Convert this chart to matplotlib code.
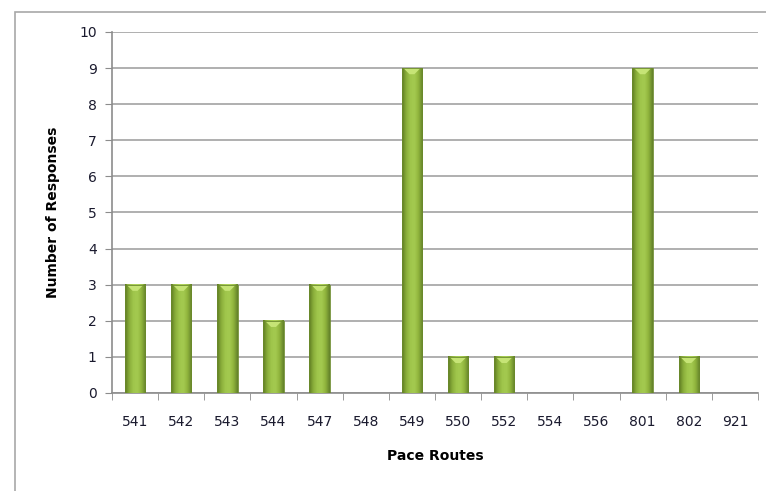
import numpy as np
import matplotlib.pyplot as plt
from matplotlib.patches import Rectangle, Polygon
from matplotlib.colors import LinearSegmentedColormap

routes = ['541', '542', '543', '544', '547', '548', '549', '550', '552',
          '554', '556', '801', '802', '921']
responses = [3, 3, 3, 2, 3, 0, 9, 1, 1, 0, 0, 9, 1, 0]

fig = plt.figure(figsize=(7.66, 4.91), dpi=100)
# outer chart border
fig.patches.append(Rectangle((15/766, -0.05), 1.0, 1 - 12/491 + 0.05,
                             transform=fig.transFigure, fill=False,
                             edgecolor='#a8a8a8', linewidth=1.2))
ax = fig.add_axes([112/766, 98/491, 646/766, 361/491])

x = np.arange(len(routes))
w = 0.44
bars = ax.bar(x, responses, width=w, color='none', edgecolor='none', zorder=3)

cmap = LinearSegmentedColormap.from_list(
    'grn', ['#5d7a22', '#8aae3a', '#a0c64c', '#a4ca50', '#8fb33c', '#62802a'])
grad = np.linspace(0, 1, 64).reshape(1, -1)
for b, v in zip(bars, responses):
    if v == 0:
        continue
    x0 = b.get_x()
    ax.imshow(grad, cmap=cmap, aspect='auto', extent=(x0, x0 + w, 0, v),
              zorder=3, interpolation='bicubic')
    # bevelled top
    ax.add_patch(Polygon([(x0 + w * 0.08, v), (x0 + w * 0.92, v),
                          (x0 + w * 0.62, v - 0.17), (x0 + w * 0.38, v - 0.17)],
                         closed=True, facecolor='#c6e476', edgecolor='none',
                         zorder=4))
    ax.add_patch(Rectangle((x0, 0), w, v, fill=False, edgecolor='#6b8a2c',
                           linewidth=0.6, zorder=4))

ax.set_xlim(-0.5, len(routes) - 0.5)
ax.set_ylim(0, 10)
ax.set_yticks(range(0, 11))
ax.set_xticks(x)
ax.set_xticklabels(routes)
ax.set_xticks(np.arange(-0.5, len(routes)), minor=True)
ax.tick_params(axis='x', which='major', length=0, pad=16, labelsize=10,
               colors='#1a1a2e')
ax.tick_params(axis='x', which='minor', length=5, color='#8c8c8c', direction='out')
ax.tick_params(axis='y', length=5, color='#8c8c8c', labelsize=10, pad=6,
               colors='#1a1a2e')
ax.tick_params(axis='y', color='#8c8c8c')
ax.grid(axis='y', color='#9a9a9a', linewidth=1.1, zorder=0)
ax.set_axisbelow(True)
for s in ['top', 'right']:
    ax.spines[s].set_visible(False)
for s in ['left', 'bottom']:
    ax.spines[s].set_color('#8c8c8c')
    ax.spines[s].set_linewidth(1.2)

ax.set_xlabel('Pace Routes', fontsize=10, fontweight='bold', labelpad=14)
ax.set_ylabel('Number of Responses', fontsize=10, fontweight='bold', labelpad=14)

fig.savefig('out.png', dpi=100)
